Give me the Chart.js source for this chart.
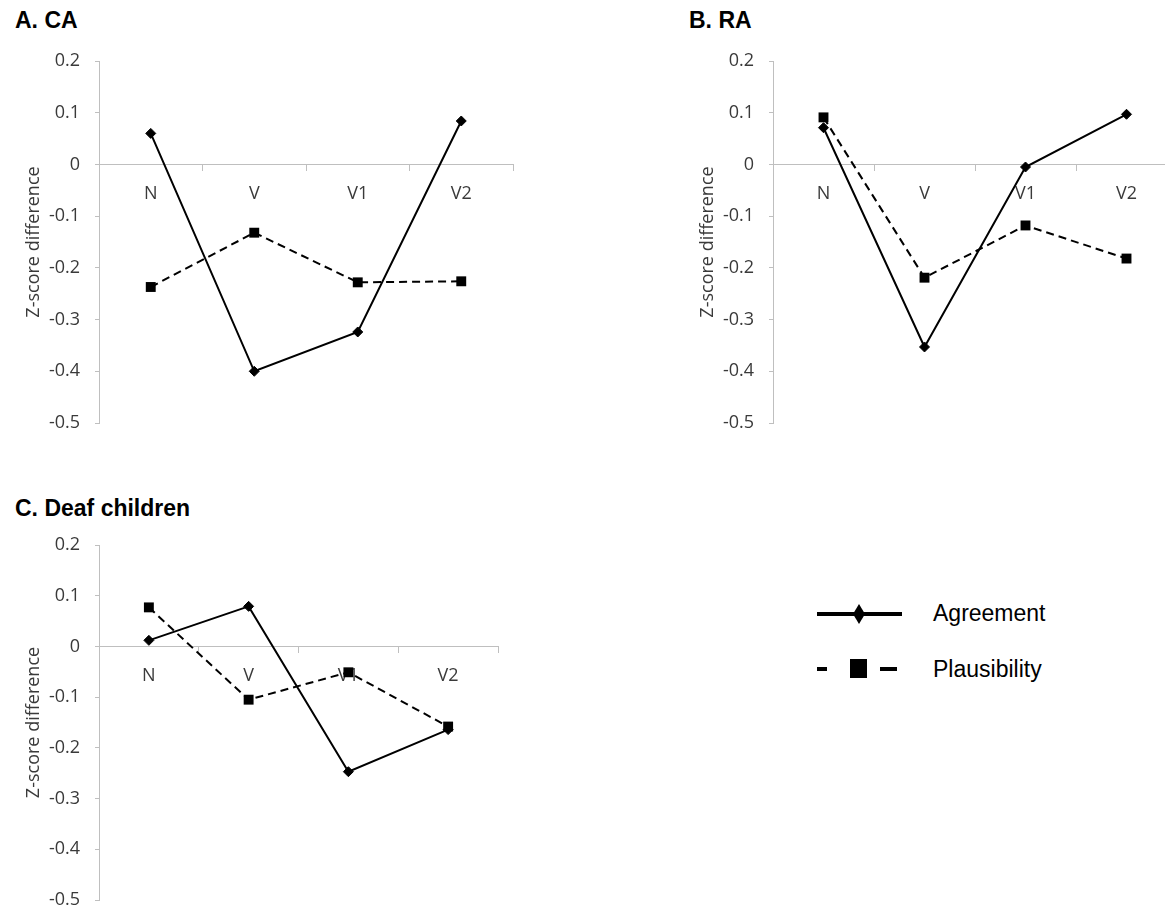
<!DOCTYPE html>
<html><head><meta charset="utf-8">
<script src="https://cdn.jsdelivr.net/npm/chart.js@4/dist/chart.umd.min.js"></script>
<style>
html,body{margin:0;padding:0;background:#fff;overflow:hidden;width:1165px;height:913px;position:relative;}
canvas{position:absolute;}
.title{position:absolute;font-family:"Liberation Sans",Arial,sans-serif;font-weight:bold;font-size:23px;line-height:23px;color:#000;white-space:nowrap;}
.leg{position:absolute;font-family:"Liberation Sans",Arial,sans-serif;font-size:23px;line-height:23px;color:#000;white-space:nowrap;}
svg{position:absolute;}
</style></head><body>
<div class="title" style="left:15px;top:9px">A. CA</div>
<div class="title" style="left:689px;top:9px">B. RA</div>
<div class="title" style="left:15px;top:497px">C. Deaf children</div>

<canvas id="cA" width="523" height="422" style="left:0px;top:31px"></canvas>
<canvas id="cB" width="513" height="422" style="left:674px;top:31px"></canvas>
<canvas id="cC" width="508" height="415" style="left:0px;top:515px"></canvas>

<svg style="left:810px;top:595px" width="100" height="90">
  <line x1="7" y1="19" x2="92" y2="19" stroke="#000" stroke-width="4"/>
  <polygon points="49,9 55,19 49,29 43,19" fill="#000"/>
  <line x1="7" y1="74" x2="17" y2="74" stroke="#000" stroke-width="4"/>
  <rect x="40" y="64" width="17" height="19" fill="#000"/>
  <line x1="70" y1="74" x2="87" y2="74" stroke="#000" stroke-width="4"/>
</svg>
<div class="leg" style="left:933px;top:602px">Agreement</div>
<div class="leg" style="left:933px;top:658px">Plausibility</div>

<script>
const categories = ['N', 'V', 'V1', 'V2'];
const yTickLabels = ['-0.5', '-0.4', '-0.3', '-0.2', '-0.1', '0', '0.1', '0.2'];
const caAgreement = [0.06, -0.40, -0.324, 0.084];
const caPlausibility = [-0.237, -0.132, -0.228, -0.226];
const raAgreement = [0.071, -0.353, -0.005, 0.097];
const raPlausibility = [0.091, -0.219, -0.118, -0.182];
const deafAgreement = [0.012, 0.079, -0.247, -0.164];
const deafPlausibility = [0.077, -0.105, -0.051, -0.158];

const axisGray = '#bfbfbf';
const textGray = '#3a3a3a';
const tickFont = {family: '"Open Sans", sans-serif', size: 18};

function makeChart(id, agreement, plausibility, yWidth) {
  return new Chart(document.getElementById(id), {
    type: 'line',
    data: {
      labels: categories,
      datasets: [
        {
          label: 'Plausibility', data: plausibility,
          borderColor: '#000', backgroundColor: '#000', borderWidth: 2,
          borderDash: [8, 5], pointStyle: 'rect', pointRadius: 7,
          pointBorderWidth: 0, tension: 0, fill: false
        },
        {
          label: 'Agreement', data: agreement,
          borderColor: '#000', backgroundColor: '#000', borderWidth: 2,
          pointStyle: 'rectRot', pointRadius: 5, pointBorderWidth: 1,
          tension: 0, fill: false
        }
      ]
    },
    options: {
      responsive: false, animation: false,
      layout: {padding: {left: 0, top: 30, right: 10, bottom: 30}},
      plugins: {legend: {display: false}, tooltip: {enabled: false}},
      scales: {
        x: {
          type: 'category', position: {y: 0}, offset: true,
          grid: {offset: true, drawOnChartArea: false, drawTicks: true, tickLength: 6, tickColor: axisGray, color: axisGray},
          border: {color: axisGray, width: 1},
          ticks: {color: textGray, font: tickFont, padding: 13, maxRotation: 0, autoSkip: false}
        },
        y: {
          min: -0.5, max: 0.2,
          ticks: {
            stepSize: 0.1, color: textGray, font: tickFont, padding: 15,
            callback: (v) => yTickLabels[Math.round(v * 10) + 5]
          },
          grid: {drawOnChartArea: false, tickLength: 4, tickColor: axisGray, color: axisGray},
          border: {color: axisGray, width: 1},
          title: {display: true, text: 'Z-score difference', color: textGray, font: tickFont, padding: {top: 23, bottom: 0}},
          afterFit: (scale) => { scale.width = yWidth; }
        }
      }
    }
  });
}

makeChart('cA', caAgreement, caPlausibility, 99);
makeChart('cB', raAgreement, raPlausibility, 99);
makeChart('cC', deafAgreement, deafPlausibility, 99);
</script>
</body></html>
